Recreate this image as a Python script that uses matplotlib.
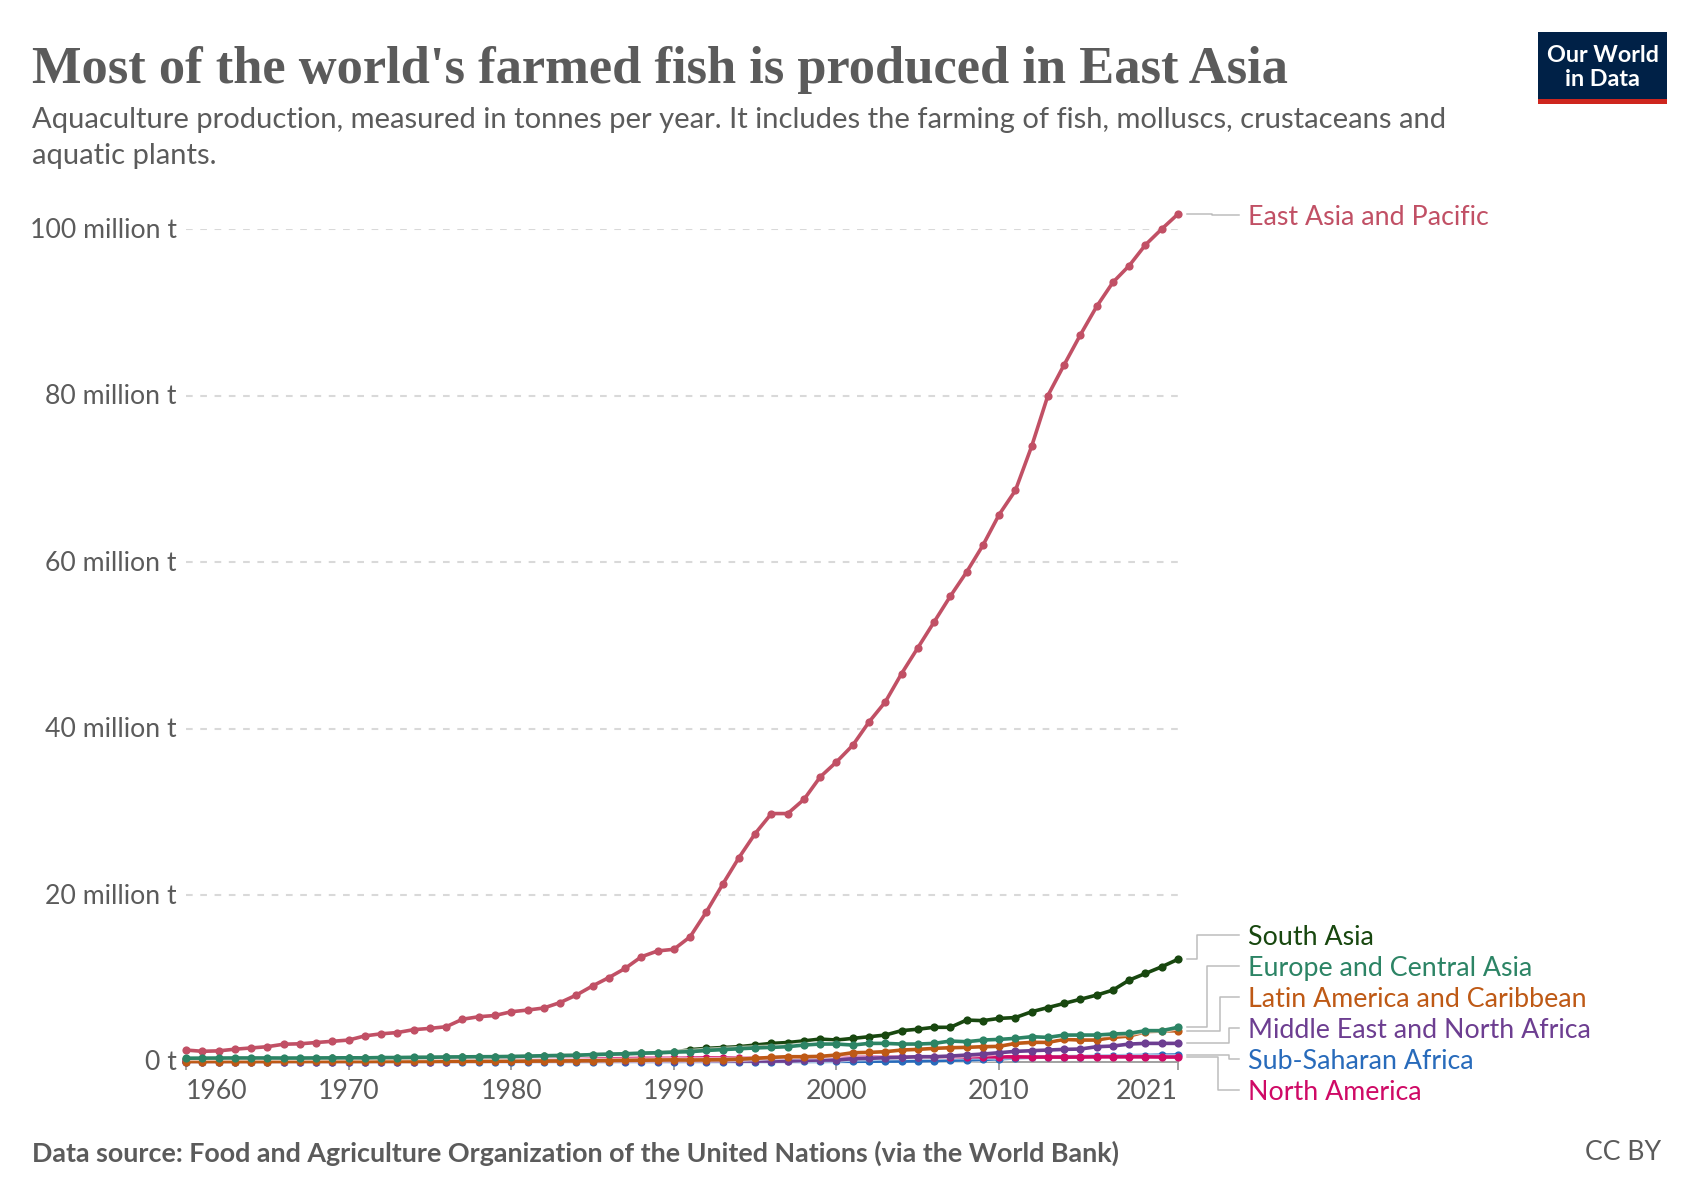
#!/usr/bin/env python3
"""Aquaculture production by world region, 1960-2021."""

import matplotlib
matplotlib.use("Agg")
import matplotlib.pyplot as plt
from matplotlib.lines import Line2D
from matplotlib.patches import Rectangle
from matplotlib.transforms import ScaledTranslation
import numpy as np

WIDTH, HEIGHT = 1700, 1200
GREY = "#5b5b5b"

years = np.arange(1960, 2022)

east_asia = [1.4, 1.25, 1.3, 1.5, 1.65, 1.8, 2.1, 2.15, 2.3, 2.45,
             2.6, 3.1, 3.35, 3.5, 3.85, 4.0, 4.2, 5.1, 5.4, 5.55,
             6.0, 6.2, 6.45, 7.1, 8.0, 9.1, 10.1, 11.2, 12.6, 13.3,
             13.5, 15.0, 18.0, 21.3, 24.5, 27.4, 29.8, 29.8, 31.5, 34.2,
             36.0, 38.0, 40.8, 43.2, 46.6, 49.7, 52.8, 55.9, 58.8, 62.0,
             65.7, 68.6, 73.9, 80.0, 83.7, 87.3, 90.7, 93.6, 95.6, 98.1, 100.0, 101.8]
south_asia = [0.3, 0.3, 0.31, 0.32, 0.33, 0.34, 0.35, 0.36, 0.38, 0.4,
              0.42, 0.43, 0.45, 0.47, 0.5, 0.52, 0.54, 0.56, 0.58, 0.6,
              0.62, 0.66, 0.7, 0.74, 0.78, 0.84, 0.9, 0.95, 1.0, 1.08,
              1.15, 1.45, 1.6, 1.7, 1.8, 2.0, 2.2, 2.3, 2.5, 2.72,
              2.6, 2.8, 3.0, 3.2, 3.73, 3.9, 4.13, 4.13, 5.0, 4.93,
              5.2, 5.3, 6.0, 6.5, 7.0, 7.5, 8.0, 8.6, 9.8, 10.6, 11.4, 12.3]
europe = [0.42, 0.43, 0.44, 0.45, 0.45, 0.45, 0.44, 0.44, 0.45, 0.46,
          0.47, 0.46, 0.5, 0.5, 0.52, 0.53, 0.56, 0.58, 0.6, 0.6,
          0.62, 0.66, 0.72, 0.74, 0.76, 0.86, 0.9, 0.95, 1.02, 1.08,
          1.15, 1.2, 1.35, 1.45, 1.55, 1.65, 1.72, 1.8, 2.0, 2.12,
          2.12, 2.0, 2.2, 2.2, 2.12, 2.12, 2.2, 2.48, 2.4, 2.6,
          2.68, 2.8, 3.0, 2.92, 3.2, 3.2, 3.2, 3.33, 3.4, 3.73, 3.73, 4.13]
latin_america = [0.02, 0.02, 0.02, 0.02, 0.02, 0.02, 0.03, 0.03, 0.03, 0.03,
                 0.03, 0.03, 0.04, 0.04, 0.04, 0.04, 0.05, 0.05, 0.05, 0.06,
                 0.06, 0.07, 0.08, 0.09, 0.1, 0.12, 0.14, 0.16, 0.18, 0.2,
                 0.22, 0.2, 0.22, 0.24, 0.3, 0.4, 0.52, 0.6, 0.6, 0.64,
                 0.8, 1.08, 1.12, 1.2, 1.4, 1.48, 1.6, 1.68, 1.72, 1.8,
                 1.84, 2.2, 2.32, 2.32, 2.68, 2.6, 2.6, 2.92, 3.08, 3.6, 3.68, 3.72]
mena = [0.01, 0.01, 0.01, 0.01, 0.01, 0.01, 0.01, 0.01, 0.01, 0.01,
        0.01, 0.01, 0.02, 0.02, 0.02, 0.02, 0.02, 0.03, 0.03, 0.03,
        0.03, 0.03, 0.04, 0.04, 0.04, 0.05, 0.05, 0.06, 0.06, 0.07,
        0.08, 0.08, 0.08, 0.08, 0.08, 0.08, 0.08, 0.08, 0.16, 0.2,
        0.2, 0.36, 0.4, 0.48, 0.52, 0.6, 0.6, 0.68, 0.8, 0.92,
        1.08, 1.24, 1.32, 1.4, 1.48, 1.52, 1.8, 1.88, 2.12, 2.2, 2.2, 2.2]
sub_saharan = [0.01, 0.01, 0.01, 0.01, 0.01, 0.01, 0.01, 0.01, 0.01, 0.01,
               0.01, 0.01, 0.01, 0.01, 0.01, 0.01, 0.01, 0.01, 0.01, 0.01,
               0.01, 0.01, 0.01, 0.01, 0.01, 0.01, 0.01, 0.01, 0.01, 0.01,
               0.01, 0.02, 0.02, 0.02, 0.02, 0.02, 0.02, 0.03, 0.03, 0.04,
               0.05, 0.05, 0.06, 0.07, 0.08, 0.1, 0.14, 0.18, 0.22, 0.28,
               0.36, 0.45, 0.52, 0.58, 0.6, 0.62, 0.66, 0.7, 0.72, 0.74, 0.78, 0.8]
north_america = [0.1, 0.1, 0.1, 0.11, 0.11, 0.12, 0.12, 0.13, 0.13, 0.14,
                 0.15, 0.16, 0.16, 0.17, 0.18, 0.18, 0.19, 0.2, 0.21, 0.22,
                 0.23, 0.25, 0.27, 0.29, 0.31, 0.33, 0.36, 0.38, 0.4, 0.4,
                 0.4, 0.42, 0.45, 0.45, 0.45, 0.46, 0.47, 0.48, 0.5, 0.52,
                 0.52, 0.54, 0.56, 0.58, 0.58, 0.58, 0.58, 0.6, 0.6, 0.6,
                 0.58, 0.58, 0.56, 0.56, 0.55, 0.56, 0.58, 0.58, 0.58, 0.58, 0.56, 0.56]

# drawing order, later ones sit on top
series = [
    ("South Asia", south_asia, "#18470f"),
    ("East Asia and Pacific", east_asia, "#c15065"),
    ("Sub-Saharan Africa", sub_saharan, "#286bbb"),
    ("North America", north_america, "#cf0a66"),
    ("Middle East and North Africa", mena, "#6d3e91"),
    ("Latin America and Caribbean", latin_america, "#be5915"),
    ("Europe and Central Asia", europe, "#2c8465"),
]

y_ticks = [0, 20, 40, 60, 80, 100]
y_labels = ["0 t", "20 million t", "40 million t", "60 million t", "80 million t", "100 million t"]
x_ticks = [1960, 1970, 1980, 1990, 2000, 2010, 2021]

# label, text y in pixels, x of the elbow in pixels
end_labels = [
    ("East Asia and Pacific", 215, 1212),
    ("South Asia", 935, 1197),
    ("Europe and Central Asia", 966, 1207),
    ("Latin America and Caribbean", 997, 1220),
    ("Middle East and North Africa", 1028, 1229),
    ("Sub-Saharan Africa", 1059, 1229),
    ("North America", 1090, 1218),
]

fig = plt.figure(figsize=(17, 12), dpi=100, facecolor="white")
plt.rcParams["font.family"] = ["Lato", "DejaVu Sans"]


def px(x, y):
    return x / WIDTH, 1 - y / HEIGHT


# axes box pinned to pixel positions of the plot area
X0, X1, Y0, Y100 = 186, 1178, 1061.7, 229
ax = fig.add_axes([X0 / WIDTH, 1 - Y0 / HEIGHT, (X1 - X0) / WIDTH, (Y0 - Y100) / HEIGHT])
ax.set_xlim(1960, 2021)
ax.set_ylim(0, 100)
ax.patch.set_alpha(0)
for side in ["top", "right", "left"]:
    ax.spines[side].set_visible(False)
ax.spines["bottom"].set_color("#a1a1a1")
ax.spines["bottom"].set_linewidth(1.4)

ax.set_yticks(y_ticks)
ax.set_yticklabels(y_labels, fontsize=19.2, color=GREY)
ax.tick_params(axis="y", length=0, pad=6.8)
ax.yaxis.grid(True, color="#d9d9d9", linestyle=(0, (3.2, 3.653)), linewidth=1.5)
ax.set_axisbelow(True)
# tick labels sit a touch above their gridlines
nudge = ScaledTranslation(0, 1.5 / 100, fig.dpi_scale_trans)
for label in ax.get_yticklabels():
    label.set_transform(label.get_transform() + nudge)

ax.set_xticks(x_ticks)
ax.set_xticklabels([str(t) for t in x_ticks], fontsize=19.2, color=GREY)
ax.tick_params(axis="x", length=6, width=1.4, color="#a1a1a1", pad=6.5)
labels = ax.get_xticklabels()
labels[0].set_ha("left")
labels[-1].set_ha("right")

z = 3
for name, values, color in series:
    # thin pale halo under the line, then the line with its points
    ax.plot(years, values, color="white", alpha=0.6, linewidth=4.2, clip_on=False, zorder=z)
    ax.plot(years, values, color=color, linewidth=2.6, marker="o", markersize=5.9,
            markeredgewidth=0, clip_on=False, zorder=z + 0.5)
    z += 1

# end labels with connector lines
colors = {name: color for name, _, color in series}
last_values = {name: values[-1] for name, values, _ in series}
to_px = ax.transData
for name, text_y, elbow in end_labels:
    start_y = HEIGHT - to_px.transform((2021, last_values[name]))[1]
    xs = np.array([1187, elbow, elbow, 1239])
    ys = np.array([start_y, start_y, text_y, text_y])
    fig.add_artist(Line2D(xs / WIDTH, 1 - ys / HEIGHT, color="#bdbdbd", linewidth=1.1))
    fig.text(*px(1248, text_y + 2.5), name, color=colors[name], fontsize=19.25, va="center", ha="left")

# header
fig.text(*px(32, 70), "Most of the world's farmed fish is produced in East Asia",
         family="Liberation Serif", fontweight="bold", fontsize=37.77, color=GREY, va="center")
fig.text(*px(32, 120), "Aquaculture production, measured in tonnes per year. It includes the farming of fish, molluscs, crustaceans and",
         fontsize=20.98, color=GREY, va="center")
fig.text(*px(32, 156), "aquatic plants.", fontsize=20.98, color=GREY, va="center")

# logo
fig.add_artist(Rectangle(px(1538, 104), 129 / WIDTH, 72 / HEIGHT, transform=fig.transFigure,
                         facecolor="#002147", edgecolor="none"))
fig.add_artist(Rectangle(px(1538, 104), 129 / WIDTH, 5 / HEIGHT, transform=fig.transFigure,
                         facecolor="#ce261e", edgecolor="none"))
fig.text(*px(1602.5, 55), "Our World", color="white", fontsize=16.8, fontweight="bold", ha="center", va="center")
fig.text(*px(1602.5, 79), "in Data", color="white", fontsize=16.8, fontweight="bold", ha="center", va="center")

# footer
fig.text(*px(32, 1153), "Data source: Food and Agriculture Organization of the United Nations (via the World Bank)",
         fontsize=19.33, fontweight="bold", color=GREY, va="center")
fig.text(*px(1661, 1153), "CC BY", fontsize=19.2, color=GREY, va="center", ha="right")

fig.savefig("out.png", dpi=100)
